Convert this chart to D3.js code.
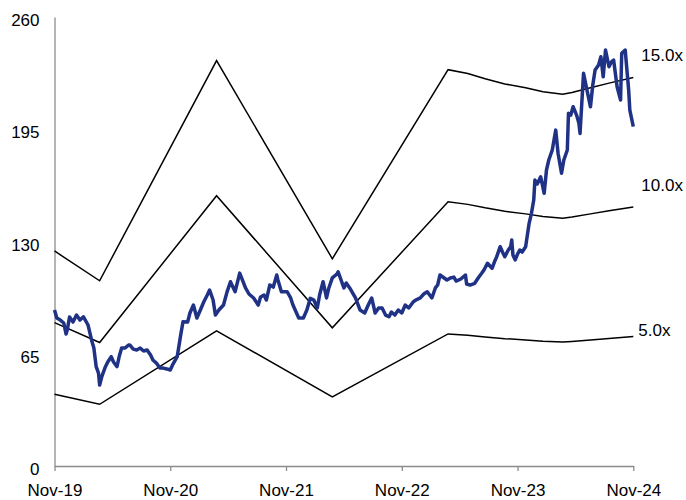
<!DOCTYPE html>
<html>
<head>
<meta charset="utf-8">
<script src="https://cdn.jsdelivr.net/npm/d3@7"></script>
<style>
  html, body { margin: 0; padding: 0; background: #fff; }
  svg { display: block; font-family: "Liberation Sans", Arial, sans-serif; }
</style>
</head>
<body>
<svg id="chart" width="686" height="500"></svg>
<script>
// Time is expressed in decimal years (Nov-19 = 2019.83).
const tickYears = [2019.83, 2020.83, 2021.83, 2022.83, 2023.83, 2024.83];
const tickLabels = ["Nov-19", "Nov-20", "Nov-21", "Nov-22", "Nov-23", "Nov-24"];
const yTicks = [0, 65, 130, 195, 260];

// Forward EPS used to build the P/E bands.
const epsYears = [2019.83, 2020.22, 2021.23, 2022.23, 2023.23, 2023.40, 2023.55, 2023.72,
                  2023.90, 2024.05, 2024.22, 2024.30, 2024.46, 2024.62, 2024.83];
const epsValues = [8.3, 7.15, 15.65, 8.0, 15.3, 15.15, 14.95, 14.75,
                   14.6, 14.45, 14.35, 14.42, 14.6, 14.78, 15.0];
const multiples = [5, 10, 15];
const multipleLabels = ["5.0x", "10.0x", "15.0x"];

// Share price.
const priceYears = [
  2019.83, 2019.85, 2019.88, 2019.91, 2019.93, 2019.94, 2019.96, 2019.99, 2020.02, 2020.05,
  2020.08, 2020.11, 2020.12, 2020.15, 2020.17, 2020.19, 2020.21, 2020.22, 2020.24, 2020.27,
  2020.29, 2020.32, 2020.34, 2020.37, 2020.39, 2020.41, 2020.44, 2020.47, 2020.48, 2020.51,
  2020.54, 2020.57, 2020.60, 2020.63, 2020.66, 2020.68, 2020.71, 2020.74, 2020.77, 2020.80,
  2020.83, 2020.85, 2020.89, 2020.92, 2020.94, 2020.98, 2021.00, 2021.03, 2021.06, 2021.09,
  2021.12, 2021.15, 2021.17, 2021.20, 2021.22, 2021.25, 2021.29, 2021.32, 2021.35, 2021.39,
  2021.43, 2021.48, 2021.51, 2021.55, 2021.59, 2021.61, 2021.64, 2021.66, 2021.69, 2021.72,
  2021.75, 2021.76, 2021.79, 2021.84, 2021.87, 2021.89, 2021.94, 2021.98, 2022.01, 2022.04,
  2022.07, 2022.10, 2022.12, 2022.15, 2022.18, 2022.20, 2022.23, 2022.27, 2022.28, 2022.33,
  2022.35, 2022.38, 2022.43, 2022.47, 2022.51, 2022.54, 2022.57, 2022.60, 2022.63, 2022.66,
  2022.69, 2022.72, 2022.74, 2022.77, 2022.80, 2022.83, 2022.86, 2022.89, 2022.93, 2022.95,
  2022.99, 2023.02, 2023.05, 2023.09, 2023.12, 2023.14, 2023.16, 2023.22, 2023.25, 2023.28,
  2023.30, 2023.34, 2023.38, 2023.39, 2023.42, 2023.46, 2023.49, 2023.52, 2023.54, 2023.57,
  2023.61, 2023.63, 2023.65, 2023.68, 2023.70, 2023.72, 2023.75, 2023.77, 2023.78, 2023.79,
  2023.81, 2023.83, 2023.85, 2023.87, 2023.90, 2023.93, 2023.95, 2023.97, 2023.98, 2024.00,
  2024.03, 2024.06, 2024.08, 2024.10, 2024.13, 2024.16, 2024.18, 2024.21, 2024.23, 2024.26,
  2024.27, 2024.29, 2024.31, 2024.34, 2024.36, 2024.37, 2024.40, 2024.43, 2024.46, 2024.48,
  2024.50, 2024.53, 2024.55, 2024.57, 2024.59, 2024.62, 2024.64, 2024.66, 2024.69, 2024.72,
  2024.73, 2024.76, 2024.78, 2024.79, 2024.80, 2024.83
];
const priceValues = [
  90.3, 85.7, 84.5, 82.8, 76.4, 78.7, 86.3, 83.4, 87.4, 84.5,
  86.4, 82.8, 81.6, 73.0, 68.3, 57.5, 53.8, 46.9, 52.1, 57.5,
  60.2, 63.3, 60.2, 57.5, 63.7, 68.3, 68.3, 70.1, 70.1, 67.7,
  67.2, 68.3, 66.6, 67.2, 64.3, 61.4, 59.6, 56.7, 56.7, 56.2,
  55.6, 58.5, 63.3, 75.8, 83.5, 83.4, 88.6, 93.2, 85.7, 90.3,
  95.1, 99.0, 101.9, 96.1, 87.4, 90.3, 93.2, 100.7, 106.7, 100.9,
  111.7, 103.1, 99.6, 97.3, 93.2, 97.9, 99.0, 96.1, 104.8, 103.6,
  110.6, 107.7, 100.9, 100.9, 97.3, 93.2, 85.7, 85.7, 90.3, 97.1,
  96.1, 91.5, 99.0, 106.7, 97.3, 103.1, 108.9, 111.2, 112.5, 103.1,
  106.0, 103.1, 97.3, 90.3, 88.6, 93.2, 97.3, 88.6, 91.5, 91.5,
  87.4, 86.4, 89.2, 87.4, 90.3, 88.6, 93.2, 91.5, 95.1, 96.1,
  97.3, 99.6, 100.9, 97.3, 103.1, 104.8, 110.6, 107.7, 108.9, 109.4,
  107.1, 108.3, 110.6, 105.4, 104.8, 105.8, 108.9, 111.6, 113.5, 117.4,
  114.5, 118.1, 121.2, 127.0, 123.9, 121.2, 125.1, 127.0, 130.9, 122.2,
  119.3, 122.7, 125.1, 123.9, 127.0, 140.5, 146.3, 154.0, 165.6, 163.3,
  167.5, 157.9, 171.4, 177.2, 183.0, 194.5, 181.1, 169.5, 177.2, 183.0,
  204.2, 203.2, 208.0, 203.2, 198.4, 192.6, 227.4, 217.7, 208.0, 220.6,
  229.3, 232.2, 237.0, 225.4, 240.9, 231.2, 233.9, 235.1, 219.6, 211.9,
  239.0, 240.9, 225.4, 217.7, 206.1, 196.5
];

const svg = d3.select("#chart");
const x = d3.scaleLinear().domain([tickYears[0], tickYears[tickYears.length - 1]]).range([54.5, 633.3]);
const y = d3.scaleLinear().domain([0, 260]).range([466, 17]);

const axisColor = "#8c8c8c";

// Y axis: line and labels only
const yAxis = svg.append("g").attr("transform", "translate(54.5,0)")
  .call(d3.axisLeft(y).tickValues(yTicks).tickSize(0).tickPadding(15).tickFormat(d3.format("d")));
yAxis.select(".domain").attr("stroke", axisColor).attr("stroke-width", 1.3);
yAxis.selectAll("text").attr("font-size", 17).attr("fill", "#000").attr("dy", "0.5em")
  .attr("font-family", "Liberation Sans, Arial, sans-serif");

// X axis
const xAxis = svg.append("g").attr("transform", "translate(0,466)")
  .call(d3.axisBottom(x).tickValues(tickYears).tickSize(5).tickSizeOuter(0).tickPadding(13)
    .tickFormat((d, i) => tickLabels[i]));
xAxis.select(".domain").attr("stroke", axisColor).attr("stroke-width", 1.3);
xAxis.selectAll(".tick line").attr("stroke", axisColor).attr("stroke-width", 1.3);
xAxis.selectAll("text").attr("font-size", 17).attr("fill", "#000")
  .attr("font-family", "Liberation Sans, Arial, sans-serif");

// P/E band lines
const eps = epsYears.map((t, i) => ({ t, v: epsValues[i] }));
const bandLine = m => d3.line().x(d => x(d.t)).y(d => y(d.v * m));
const labelShift = { 5: -6, 10: -22, 15: -22 };
multiples.forEach((m, i) => {
  svg.append("path").datum(eps)
    .attr("fill", "none").attr("stroke", "#000").attr("stroke-width", 1.5)
    .attr("d", bandLine(m));
  const last = eps[eps.length - 1];
  svg.append("text")
    .attr("x", x(last.t) + (m === 5 ? 5 : 8))
    .attr("y", y(last.v * m) + labelShift[m])
    .attr("dy", "0.35em")
    .attr("font-size", 17)
    .attr("fill", "#000")
    .text(multipleLabels[i]);
});

// Price line
const price = priceYears.map((t, i) => ({ t, v: priceValues[i] }));
svg.append("path").datum(price)
  .attr("fill", "none").attr("stroke", "#1f3286").attr("stroke-width", 3.5)
  .attr("stroke-linejoin", "round")
  .attr("d", d3.line().x(d => x(d.t)).y(d => y(d.v)));
</script>
</body>
</html>
